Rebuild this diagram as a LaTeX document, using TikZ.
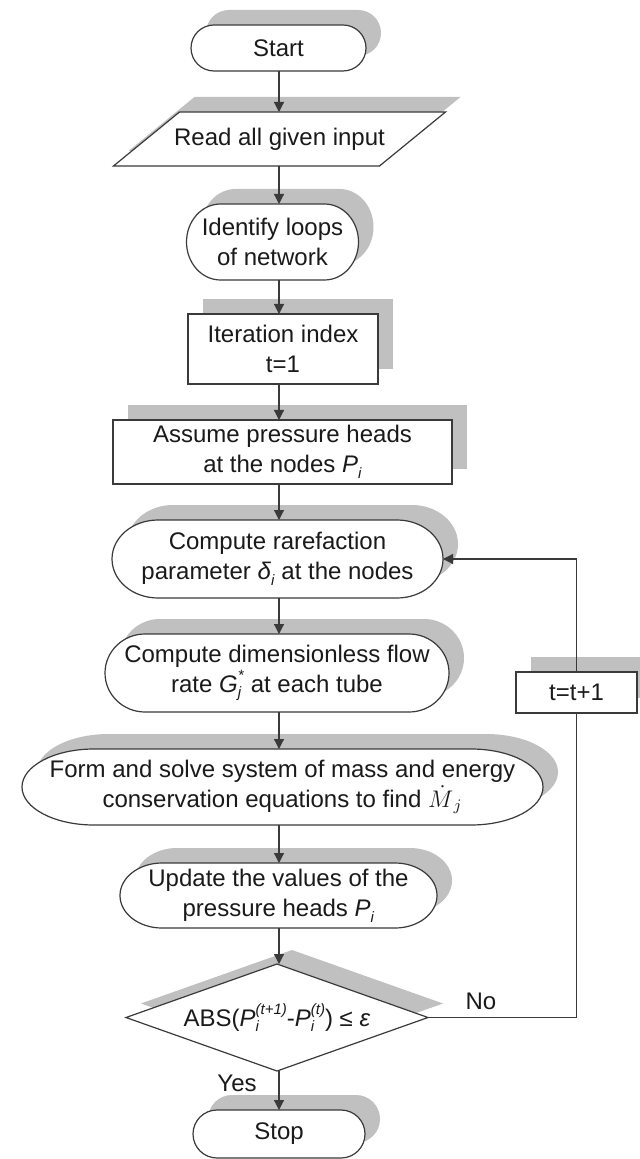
\documentclass[tikz,border=0pt]{standalone}
\usepackage{fontspec}
\setmainfont{Liberation Sans}
\usetikzlibrary{arrows.meta}
\definecolor{shc}{HTML}{C0C0C0}
\definecolor{linec}{HTML}{3A3A3A}
\definecolor{txtc}{HTML}{1A1A1A}
\newcommand\mysub[1]{\raisebox{-0.45ex}{\fontsize{7.5}{7.5}\selectfont\textit{#1}}}
\newcommand\mysup[1]{\raisebox{0.95ex}{\fontsize{7.5}{7.5}\selectfont\textit{#1}}}
\newcommand\mysubsup[2]{\rlap{\mysub{#1}}\mysup{#2}}
% terminator-like path: cx cy hw hh rx
\newcommand\tpath[5]{(#1-#3+#5,#2-#4) -- (#1+#3-#5,#2-#4)
 .. controls (#1+#3-#5+0.5523*#5,#2-#4) and (#1+#3,#2-0.5523*#4) .. (#1+#3,#2)
 .. controls (#1+#3,#2+0.5523*#4) and (#1+#3-#5+0.5523*#5,#2+#4) .. (#1+#3-#5,#2+#4)
 -- (#1-#3+#5,#2+#4)
 .. controls (#1-#3+#5-0.5523*#5,#2+#4) and (#1-#3,#2+0.5523*#4) .. (#1-#3,#2)
 .. controls (#1-#3,#2-0.5523*#4) and (#1-#3+#5-0.5523*#5,#2-#4) .. cycle}
% rect path: cx cy hw hh
\newcommand\rpath[4]{(#1-#3,#2-#4) rectangle (#1+#3,#2+#4)}
% diamond path
\newcommand\dpath[4]{(#1-#3,#2) -- (#1,#2-#4) -- (#1+#3,#2) -- (#1,#2+#4) -- cycle}
% parallelogram path: cx cy hw hh slant(half)
\newcommand\ppath[5]{(#1-#3+#5,#2-#4) -- (#1+#3+#5,#2-#4) -- (#1+#3-#5,#2+#4) -- (#1-#3-#5,#2+#4) -- cycle}
% node makers: name cx cy hw hh rx text
\newcommand\termnode[7]{%
 \fill[shc] \tpath{#2+15}{#3-15}{#4}{#5}{#6};
 \filldraw[shapestyle] \tpath{#2}{#3}{#4}{#5}{#6};
 \node[txtstyle, minimum width=#4 pt, minimum height=#5 pt] (#1) at (#2,#3) {#7};}
\newcommand\rectnode[6]{%
 \fill[shc] \rpath{#2+15}{#3-15}{#4}{#5};
 \filldraw[shapestyle] \rpath{#2}{#3}{#4}{#5};
 \node[txtstyle, minimum width=#4 pt, minimum height=#5 pt] (#1) at (#2,#3) {#6};}
\begin{document}
\begin{tikzpicture}[x=0.5pt,y=-0.5pt,
  shapestyle/.style={fill=white, draw=linec, line width=0.6pt},
  txtstyle/.style={inner sep=0pt, outer sep=0pt, align=center, text=txtc,
    font=\fontsize{12}{15}\selectfont},
  arr/.style={draw=linec, line width=0.6pt, -{Triangle[length=5pt,width=5pt]}},
  plain/.style={draw=linec, line width=0.6pt},
  lbl/.style={inner sep=0pt, text=txtc, font=\fontsize{12}{15}\selectfont}]
\clip (0,0) rectangle (640,1159);
\fill[white] (0,0) rectangle (640,1159);
\coordinate (ax) at (279,0);

\termnode{start}{278.5}{48}{87.5}{23}{23}{Start}

% parallelogram
\fill[shc] \ppath{279.5+15}{139-15}{133}{27}{33};
\filldraw[shapestyle] \ppath{279.5}{139}{133}{27}{33};
\node[txtstyle, minimum width=133pt, minimum height=27pt] (read) at (279.5,139) {Read all given input};

\termnode{ident}{272.5}{242}{86}{38}{34}{Identify loops\\of network}
\rectnode{iter}{283}{349}{95}{35}{Iteration index\\t=1}
\rectnode{assume}{282.5}{452}{169.5}{32}{Assume pressure heads\\at the nodes \textit{P}\mysub{i}}
\termnode{rare}{277.5}{559}{165.5}{39}{46}{Compute rarefaction\\parameter \textit{δ}\mysub{i} at the nodes}
\termnode{dimless}{277}{673}{172}{39}{40}{Compute dimensionless flow\\rate \textit{G}\mysubsup{j}{*} at each tube}
\termnode{form}{282.5}{787}{260.5}{38}{72}{Form and solve system of mass and energy\\conservation equations to find $\dot{M}_{\,j}$}
\termnode{update}{278.5}{895.5}{158.5}{32.5}{42}{Update the values of the\\pressure heads \textit{P}\mysub{i}}

% diamond
\fill[shc] \dpath{277+15}{1017.5-14}{151}{53.5};
\filldraw[shapestyle] \dpath{277}{1017.5}{151}{53.5};
\node[txtstyle, minimum width=151pt, minimum height=53.5pt] (dia) at (277,1017.5)
  {ABS(\textit{P}\mysubsup{i}{(t+1)}-\textit{P}\mysubsup{i}{(t)}) ≤ \textit{ε}};

\termnode{stop}{279}{1134}{86}{24}{24}{Stop}
\rectnode{inc}{576.5}{692.5}{60.5}{20.5}{t=t+1}

% connectors
\draw[arr] (start.south -| ax) -- (read.north -| ax);
\draw[arr] (read.south -| ax) -- (ident.north -| ax);
\draw[arr] (ident.south -| ax) -- (iter.north -| ax);
\draw[arr] (iter.south -| ax) -- (assume.north -| ax);
\draw[arr] (assume.south -| ax) -- (rare.north -| ax);
\draw[arr] (rare.south -| ax) -- (dimless.north -| ax);
\draw[arr] (dimless.south -| ax) -- (form.north -| ax);
\draw[arr] (form.south -| ax) -- (update.north -| ax);
\draw[arr] (update.south -| ax) -- (dia.north -| ax);
\draw[arr] (dia.south -| ax) -- (stop.north -| ax);
\draw[plain] (dia.east) -| (inc.south);
\draw[arr] (inc.north) |- (rare.east);

\node[lbl] (no) at (481,1001) {No};
\node[lbl] (yes) at (237,1083) {Yes};
\end{tikzpicture}
\end{document}
